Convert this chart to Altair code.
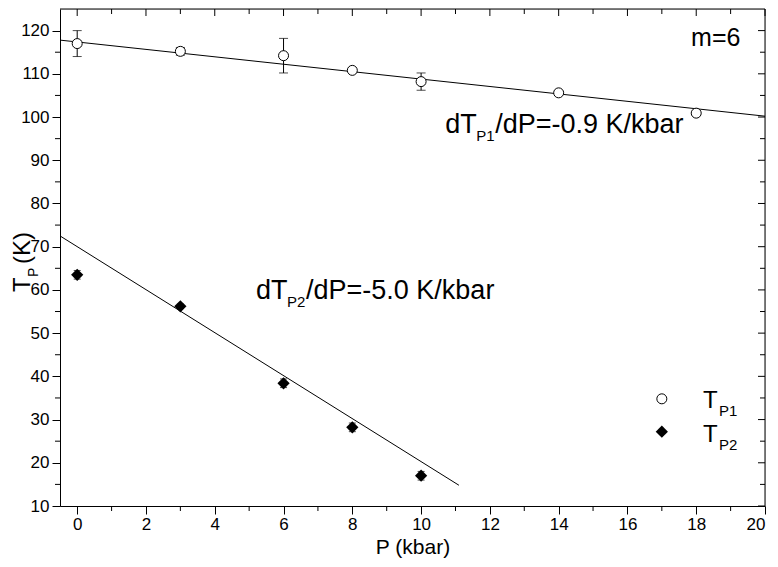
import altair as alt
import pandas as pd

# ---- data ----
p1_x = [0, 3, 6, 8, 10, 14, 18]
p1_y = [117.0, 115.2, 114.2, 110.8, 108.2, 105.6, 100.9]
p1_err = [3.0, 0.9, 4.0, 0.4, 2.0, 0.4, 0.4]

p2_x = [0, 3, 6, 8, 10]
p2_y = [63.5, 56.2, 38.4, 28.2, 17.0]
p2_err = [1.0, 0.5, 1.0, 1.0, 1.0]

fit1_x = [-0.5, 20.0]
fit1_y = [117.8, 100.2]
fit2_x = [-0.5, 11.1]
fit2_y = [72.5, 14.8]

x_major = [0, 2, 4, 6, 8, 10, 12, 14, 16, 18, 20]
x_minor = [1, 3, 5, 7, 9, 11, 13, 15, 17, 19]
y_major = [10, 20, 30, 40, 50, 60, 70, 80, 90, 100, 110, 120]
y_minor = [15, 25, 35, 45, 55, 65, 75, 85, 95, 105, 115]

W, H = 705, 497
FONT = "Liberation Sans"
ANN = 27
SUB = 15

xs = alt.Scale(domain=[-0.5, 20], nice=False, zero=False)
ys = alt.Scale(domain=[10, 125], nice=False, zero=False)

d1 = pd.DataFrame({"P": p1_x, "T": p1_y, "lo": [a - b for a, b in zip(p1_y, p1_err)],
                   "hi": [a + b for a, b in zip(p1_y, p1_err)]})
d2 = pd.DataFrame({"P": p2_x, "T": p2_y, "lo": [a - b for a, b in zip(p2_y, p2_err)],
                   "hi": [a + b for a, b in zip(p2_y, p2_err)]})
f1 = pd.DataFrame({"P": fit1_x, "T": fit1_y})
f2 = pd.DataFrame({"P": fit2_x, "T": fit2_y})

X = lambda f="P": alt.X(f"{f}:Q", scale=xs)
Y = lambda f="T": alt.Y(f"{f}:Q", scale=ys)

axis_x = alt.Axis(values=x_major, title="P (kbar)", format="d", grid=False,
                  tickSize=8, tickColor="black", domainColor="black", labelFont=FONT,
                  labelFontSize=17, labelColor="black", labelPadding=2,
                  titleFont=FONT, titleFontSize=21, titleFontWeight="normal",
                  titleColor="black", titlePadding=4)
axis_y = alt.Axis(values=y_major, title=None, format="d", grid=False,
                  tickSize=8, tickColor="black", domainColor="black", labelFont=FONT,
                  labelFontSize=17, labelColor="black", labelPadding=3)

lines1 = alt.Chart(f1).mark_line(color="black", strokeWidth=1).encode(
    x=alt.X("P:Q", scale=xs, axis=axis_x), y=alt.Y("T:Q", scale=ys, axis=axis_y))
lines2 = alt.Chart(f2).mark_line(color="black", strokeWidth=1).encode(x=X(), y=Y())

def bars(df, cap):
    r = alt.Chart(df).mark_rule(color="black", strokeWidth=1).encode(x=X(), y=Y("lo"), y2="hi")
    a = alt.Chart(df).mark_tick(color="black", orient="horizontal", size=cap, thickness=1).encode(x=X(), y=Y("lo"))
    b = alt.Chart(df).mark_tick(color="black", orient="horizontal", size=cap, thickness=1).encode(x=X(), y=Y("hi"))
    return [r, a, b]

pts1 = alt.Chart(d1).mark_point(shape="circle", filled=True, fill="white", stroke="black",
                                strokeWidth=1, size=100, opacity=1).encode(x=X(), y=Y())
pts2 = alt.Chart(d2).mark_point(shape="diamond", filled=True, color="black", size=150,
                                opacity=1).encode(x=X(), y=Y())

one = pd.DataFrame({"a": [0]})
frame_top = alt.Chart(one).mark_rule(color="black").encode(
    x=alt.value(0), x2=alt.value(W), y=alt.value(0))
frame_right = alt.Chart(one).mark_rule(color="black").encode(
    x=alt.value(W), y=alt.value(0), y2=alt.value(H))

xmaj = pd.DataFrame({"P": x_major})
xmin = pd.DataFrame({"P": x_minor})
ymaj = pd.DataFrame({"T": y_major})
ymin = pd.DataFrame({"T": y_minor})

ticks = [
    alt.Chart(xmaj).mark_rule(color="black").encode(x=X(), y=alt.value(0), y2=alt.value(7)),
    alt.Chart(xmin).mark_rule(color="black").encode(x=X(), y=alt.value(0), y2=alt.value(5)),
    alt.Chart(xmin).mark_rule(color="black").encode(x=X(), y=alt.value(H), y2=alt.value(H + 5)),
    alt.Chart(ymaj).mark_rule(color="black").encode(y=Y(), x=alt.value(W - 7), x2=alt.value(W)),
    alt.Chart(ymin).mark_rule(color="black").encode(y=Y(), x=alt.value(W - 5), x2=alt.value(W)),
    alt.Chart(ymin).mark_rule(color="black").encode(y=Y(), x=alt.value(-5), x2=alt.value(0)),
]

def txt(x, y, s, size=ANN, dx=0, dy=0):
    return alt.Chart(pd.DataFrame({"P": [x], "T": [y], "s": [s]})).mark_text(
        font=FONT, fontSize=size, color="black", align="left", baseline="alphabetic",
        dx=dx, dy=dy).encode(x=X(), y=Y(), text="s:N")

ann = [
    txt(17.85, 116.4, "m=6", size=25),
    txt(10.7, 96.3, "dT"),
    txt(10.7, 96.3, "P1", size=SUB, dx=31, dy=8),
    txt(10.7, 96.3, "/dP=-0.9 K/kbar", dx=50),
    txt(5.2, 58.0, "dT"),
    txt(5.2, 58.0, "P2", size=SUB, dx=31, dy=8),
    txt(5.2, 58.0, "/dP=-5.0 K/kbar", dx=50),
    txt(18.2, 32.6, "T", size=24),
    txt(18.2, 32.6, "P1", size=SUB, dx=16, dy=8),
    txt(18.2, 24.8, "T", size=24),
    txt(18.2, 24.8, "P2", size=SUB, dx=16, dy=8),
]

leg1 = alt.Chart(pd.DataFrame({"P": [17.0], "T": [34.8]})).mark_point(
    shape="circle", filled=True, fill="white", stroke="black", strokeWidth=1, size=100, opacity=1
).encode(x=X(), y=Y())
leg2 = alt.Chart(pd.DataFrame({"P": [17.0], "T": [27.2]})).mark_point(
    shape="diamond", filled=True, color="black", size=150, opacity=1).encode(x=X(), y=Y())

def rot(s, size, xv, yv):
    return alt.Chart(pd.DataFrame({"s": [s]})).mark_text(
        font=FONT, fontSize=size, angle=270, align="left", baseline="alphabetic",
        color="black").encode(x=alt.value(xv), y=alt.value(yv), text="s:N")

ytitle = [rot("T", 24, -30, 283), rot("P", 14, -22, 268), rot("(K)", 24, -30, 255)]

chart = alt.layer(
    lines1, lines2, *bars(d1, 9), *bars(d2, 7), pts1, pts2,
    frame_top, frame_right, *ticks, leg1, leg2, *ann, *ytitle
).properties(
    width=W, height=H, padding={"left": 52, "top": 1, "right": 5, "bottom": 53},
    autosize=alt.AutoSizeParams(type="none"),
).configure_view(stroke=None).configure(background="white")

chart.save("out.html", embed_options={"renderer": "svg", "actions": False})
